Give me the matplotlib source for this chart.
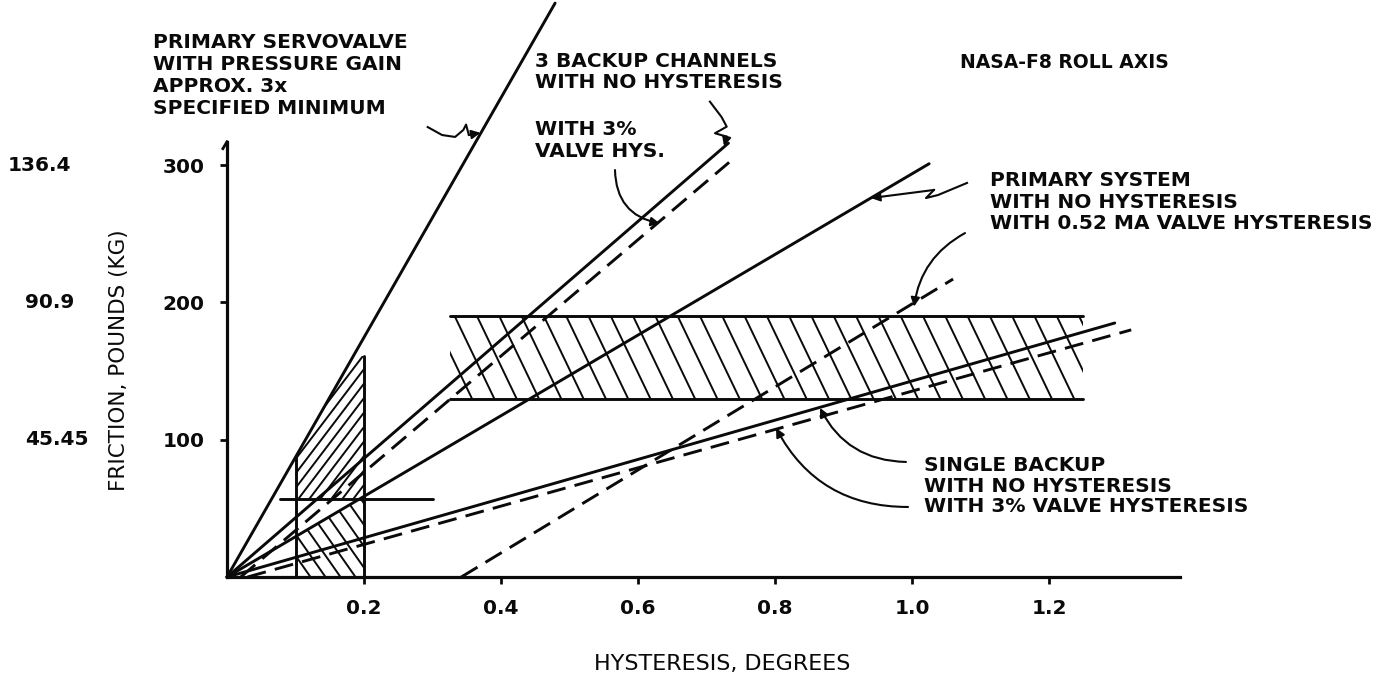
import matplotlib
matplotlib.use("Agg")
import matplotlib.pyplot as plt
import numpy as np
from matplotlib.patches import Polygon
from matplotlib.lines import Line2D
from matplotlib.transforms import IdentityTransform

INK = "#0a0a0a"
plt.rcParams["font.family"] = ["DejaVu Sans"]
plt.rcParams["font.size"] = 14.5
plt.rcParams["font.weight"] = "bold"

# axis ticks: hysteresis in degrees, friction in pounds (kg equivalents on the far left)
hys_ticks = [0.2, 0.4, 0.6, 0.8, 1.0, 1.2]
lb_ticks = [100, 200, 300]
kg_labels = ["45.45", "90.9", "136.4"]

# friction (lb) against hysteresis (deg), end points of each line
servo_x, servo_y = [0.0, 0.479], [0, 418]                 # primary servovalve, 3x pressure gain
backup3_x, backup3_y = [0.0, 0.732], [0, 316]             # 3 backup channels, no hysteresis
backup3_hys_x, backup3_hys_y = [0.02, 0.733], [0, 302]    # 3 backup channels, 3% valve hys.
primary_x, primary_y = [0.0, 1.025], [0, 301]             # primary system, no hysteresis
primary_hys_x, primary_hys_y = [0.342, 1.06], [0, 217]    # primary system, 0.52 MA valve hys.
single_x, single_y = [0.0, 1.296], [0, 185]               # single backup, no hysteresis
single_hys_x, single_hys_y = [0.03, 1.32], [0, 180]       # single backup, 3% valve hys.

# measured friction band and the low-hysteresis window
band_x, band_y = [0.325, 1.25], [130, 190]
window_x = [0.1, 0.2]
window_top = 161
cross_x, cross_y = [0.077, 0.3], 57


def hatch(ax, verts, step, slant, lw=1.4):
    """Parallel hatch lines clipped to a polygon; step and slant are in pixels."""
    outline = Polygon(verts, closed=True, fill=False, lw=0)
    ax.add_patch(outline)
    pts = ax.transData.transform(verts)
    x0, y0 = pts.min(axis=0)
    x1, y1 = pts.max(axis=0)
    drift = slant * (y1 - y0)
    for xs in np.arange(x0 - abs(drift) - step, x1 + abs(drift) + step, step):
        ln = Line2D([xs, xs + drift], [y1, y0], transform=IdentityTransform(),
                    color=INK, lw=lw, solid_capstyle="butt")
        ln.set_clip_path(outline)
        ax.add_artist(ln)


ARROW = dict(arrowstyle="-|>", color=INK, lw=1.5, mutation_scale=13, shrinkA=0, shrinkB=0)


def leader(ax, pts):
    xs, ys = zip(*pts)
    ax.plot(xs[:-1], ys[:-1], color=INK, lw=1.5, clip_on=False)
    ax.annotate("", xy=pts[-1], xytext=pts[-2], arrowprops=ARROW)


def curved_leader(ax, start, end, rad):
    ax.annotate("", xy=end, xytext=start,
                arrowprops=dict(ARROW, connectionstyle=f"arc3,rad={rad}"))


def text_lines(ax, x, ys, lines):
    for y, s in zip(ys, lines):
        ax.text(x, y, s, ha="left", va="center", color=INK)


fig = plt.figure(figsize=(13.93, 6.74), dpi=100)
ax = fig.add_axes([227 / 1393, 97 / 674, 1166 / 1393, 577 / 674])
ax.set_xlim(0, 1166 / 685)
ax.set_ylim(0, 577 / 1.373)

for side in ("top", "right"):
    ax.spines[side].set_visible(False)
for side in ("left", "bottom"):
    ax.spines[side].set_linewidth(2.3)
    ax.spines[side].set_color(INK)
ax.spines["left"].set_bounds(0, 317)
ax.spines["bottom"].set_bounds(0, 1.391)
# little hook drawn at the top of the friction axis
ax.plot([0, -0.006], [317, 312], color=INK, lw=2.0, clip_on=False)

ax.set_xticks(hys_ticks, labels=[f"{v:.1f}" for v in hys_ticks])
ax.set_yticks(lb_ticks, labels=[str(v) for v in lb_ticks])
ax.tick_params(direction="out", length=5, width=2, pad=11, colors=INK, labelsize=14.5)

kg_x = {"45.45": -0.295, "90.9": -0.295, "136.4": -0.32}
for y, kg in zip(lb_ticks, kg_labels):
    ax.text(kg_x[kg], y, kg, ha="left", va="center", color=INK)

ax.set_xlabel("HYSTERESIS, DEGREES", color=INK, fontweight="normal", fontsize=16)
ax.xaxis.set_label_coords(0.7226, -56, transform=ax.transData)
ax.set_ylabel("FRICTION, POUNDS (KG)", color=INK, fontweight="normal", fontsize=15.5)
ax.yaxis.set_label_coords(-0.143, 158, transform=ax.transData)

solid = dict(color=INK, lw=2.1, clip_on=False, solid_capstyle="round")
dashed = dict(color=INK, lw=2.1, clip_on=False, linestyle=(0, (6.5, 3.2)))

ax.plot(servo_x, servo_y, **solid)
ax.plot(backup3_x, backup3_y, **solid)
ax.plot(backup3_hys_x, backup3_hys_y, **dashed)
ax.plot(primary_x, primary_y, **solid)
ax.plot(primary_hys_x, primary_hys_y, **dashed)
ax.plot(single_x, single_y, **solid)
ax.plot(single_hys_x, single_hys_y, **dashed)

# friction band
ax.plot(band_x, [band_y[1]] * 2, **solid)
ax.plot(band_x, [band_y[0]] * 2, **solid)
hatch(ax, [(band_x[0], band_y[0]), (band_x[0], band_y[1]),
           (band_x[1], band_y[1]), (band_x[1], band_y[0])], step=22.3, slant=0.48)

# low-hysteresis window between 0.1 and 0.2 deg
servo_slope = servo_y[1] / servo_x[1]
primary_slope = primary_y[1] / primary_x[1]
a_low = servo_slope * window_x[0]
ax.plot([window_x[0]] * 2, [0, a_low], **solid)
ax.plot([window_x[1]] * 2, [0, window_top], **solid)
ax.plot(cross_x, [cross_y] * 2, **solid)
hatch(ax, [(window_x[0], cross_y), (window_x[0], a_low),
           (window_top / servo_slope, window_top), (window_x[1], window_top),
           (window_x[1], cross_y)], step=11, slant=-0.76)
hatch(ax, [(window_x[0], 0), (window_x[0], primary_slope * window_x[0]),
           (window_x[1], primary_slope * window_x[1]), (window_x[1], 0)],
      step=15, slant=0.7)

# annotations
text_lines(ax, -0.108, [389, 373, 357, 341.5],
           ["PRIMARY SERVOVALVE", "WITH PRESSURE GAIN", "APPROX. 3x", "SPECIFIED MINIMUM"])
leader(ax, [(0.293, 327.7), (0.314, 321.9), (0.333, 320.5), (0.345, 325.6),
            (0.349, 329.5), (0.353, 322.0), (0.370, 323.5)])

text_lines(ax, 0.45, [375.3, 359.8], ["3 BACKUP CHANNELS", "WITH NO HYSTERESIS"])
leader(ax, [(0.705, 346.2), (0.722, 335.0), (0.7295, 328.0), (0.7124, 323.2),
            (0.7295, 320.7), (0.7255, 313.9)])
text_lines(ax, 0.45, [325.6, 309.8], ["WITH 3%", "VALVE HYS."])
curved_leader(ax, (0.5664, 296.4), (0.632, 257.5), 0.4)

ax.text(1.07, 375, "NASA-F8 ROLL AXIS", ha="left", va="center", color=INK, fontsize=13.5)

text_lines(ax, 1.114, [289, 273, 257.6],
           ["PRIMARY SYSTEM", "WITH NO HYSTERESIS", "WITH 0.52 MA VALVE HYSTERESIS"])
leader(ax, [(1.0803, 287.0), (1.038, 278.2), (1.0204, 276.0), (1.0321, 281.9),
            (0.9401, 276.0)])
curved_leader(ax, (1.0774, 250.5), (1.0029, 196.9), 0.25)

text_lines(ax, 1.018, [81, 66, 51.7],
           ["SINGLE BACKUP", "WITH NO HYSTERESIS", "WITH 3% VALVE HYSTERESIS"])
curved_leader(ax, (0.9912, 83.8), (0.8657, 123.1), -0.3)
curved_leader(ax, (0.9942, 51.0), (0.8015, 108.5), -0.3)

fig.savefig("out.png", dpi=100)
